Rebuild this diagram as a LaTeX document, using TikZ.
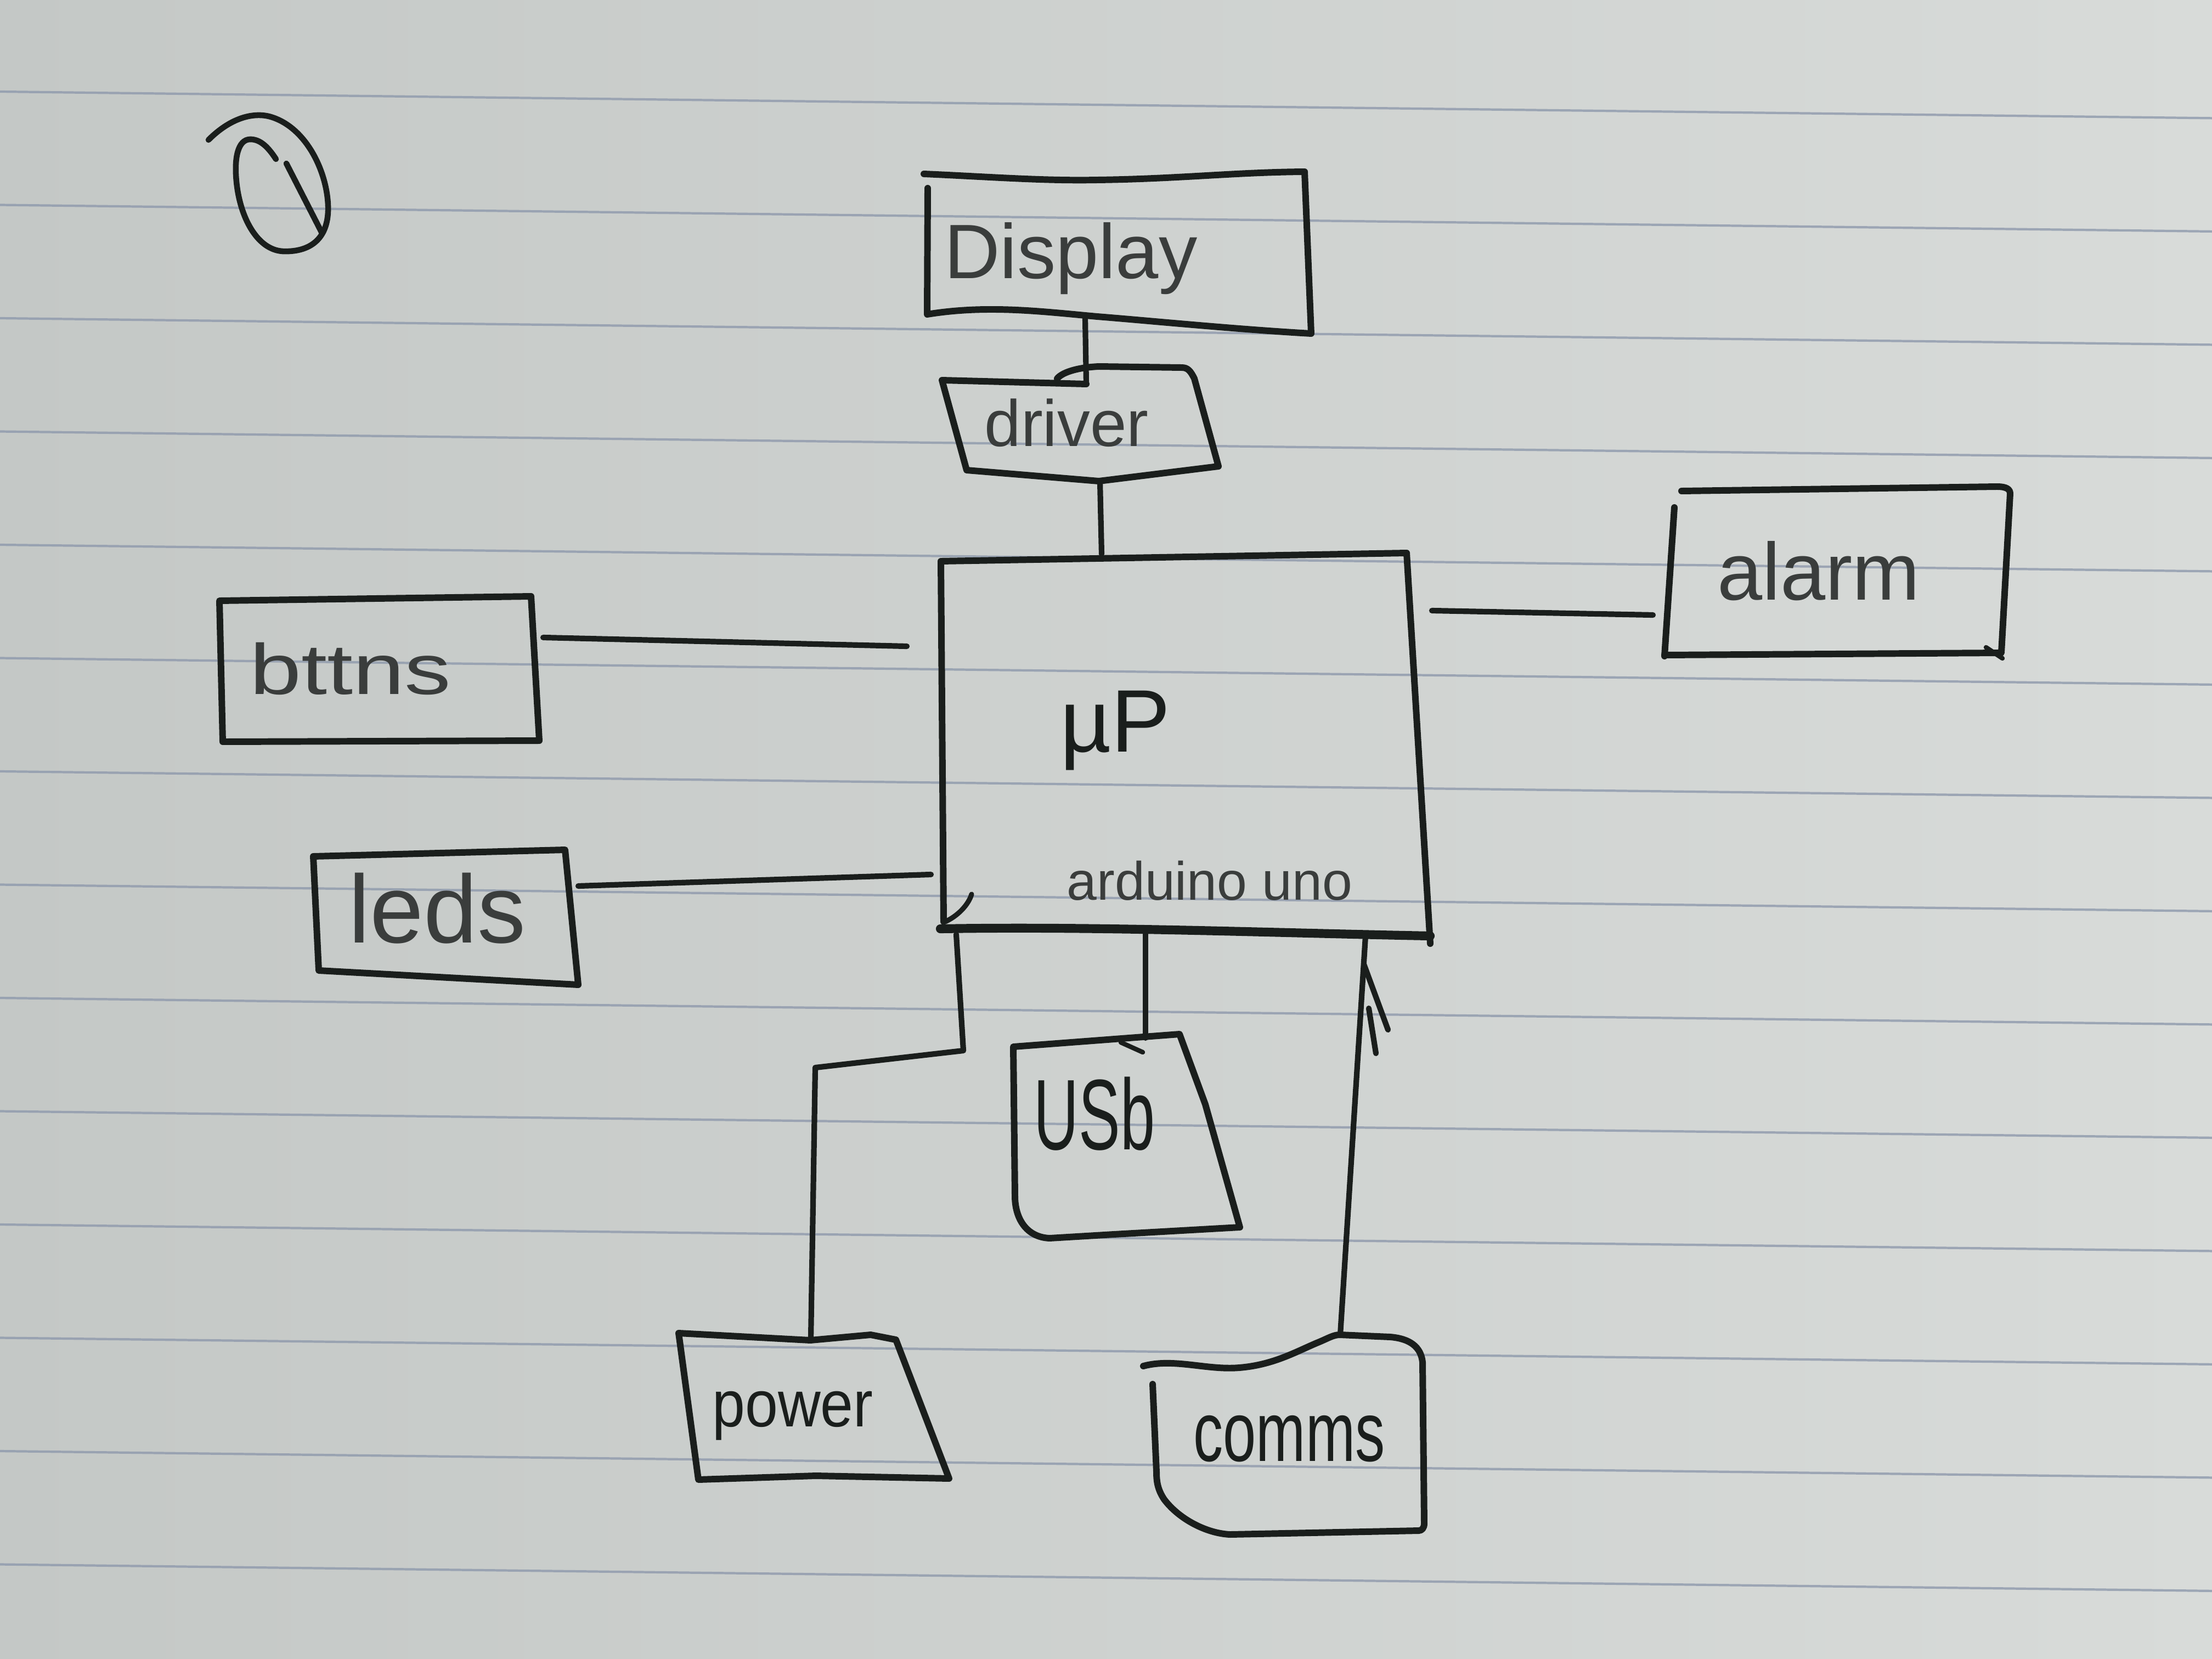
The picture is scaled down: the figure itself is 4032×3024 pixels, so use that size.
\documentclass[tikz,border=0pt]{standalone}
\usepackage{fontspec}
\setmainfont{Liberation Sans}
\usetikzlibrary{calc}
\definecolor{ink}{RGB}{26,30,28}
\definecolor{pencil}{RGB}{58,61,60}
\definecolor{paperL}{RGB}{196,200,198}
\definecolor{paperR}{RGB}{216,219,217}
\definecolor{rulec}{RGB}{142,153,172}
\begin{document}
\begin{tikzpicture}[x=0.01cm,y=-0.01cm,
  box/.style={draw=ink, line width=3.4pt, line join=round, line cap=round},
  wire/.style={draw=ink, line width=2.9pt, line cap=round, line join=round},
  rl/.style={draw=rulec, line width=1.2pt, opacity=0.8},
  lbl/.style={inner sep=0pt, anchor=base, text=#1},
  lbl/.default=ink]
\useasboundingbox (0,0) rectangle (4032,3024);
\shade[left color=paperL, right color=paperR] (0,0) rectangle (4032,3024);
% ruled lines
\foreach \k in {0,...,13} {
  \draw[rl] (0,{167+206.5*\k}) -- (4032,{215.4+206.5*\k});
}
% circled 1
\draw[box, line width=3pt] (380,255) .. controls (420,215) and (460,205) .. (490,212)
  .. controls (560,230) and (600,320) .. (598,385)
  .. controls (596,440) and (560,460) .. (515,458)
  .. controls (470,455) and (440,400) .. (432,340)
  .. controls (425,285) and (435,255) .. (455,254)
  .. controls (475,253) and (490,270) .. (503,290);
\draw[box, line width=3pt] (522,298) -- (587,425);

% ---------- Display
\draw[box] (1684,317) .. controls (1800,322) and (1900,330) .. (2000,328)
  .. controls (2150,326) and (2250,314) .. (2378,313) -- (2390,608)
  .. controls (2250,600) and (2100,585) .. (2000,577)
  .. controls (1900,568) and (1800,555) .. (1690,573) -- (1691,343);
\node[lbl=pencil, font=\fontsize{40pt}{40pt}\selectfont] (dispT) at (1952,507) {Display};
\coordinate (dispB) at (1978,580);

% ---------- driver
\draw[box] (1980,700) -- (1717,693) -- (1762,857) -- (2003,877) -- (2221,850) -- (2177,690)
  .. controls (2170,676) and (2165,670) .. (2154,670) -- (2003,668)
  .. controls (1960,670) and (1935,680) .. (1927,690);
\node[lbl=pencil, font=\fontsize{34pt}{34pt}\selectfont] (drvT) at (1944,813) {driver};
\coordinate (drvTop) at (1980,700);
\coordinate (drvB) at (2005,877);

% ---------- uP
\draw[box] (1720,1680) -- (1715,1023) -- (2564,1008) -- (2607,1720);
\draw[box, line width=4.6pt] (1714,1693) .. controls (2000,1688) and (2300,1700) .. (2607,1706);
\draw[box, line width=2.6pt] (1723,1680) .. controls (1745,1670) and (1765,1650) .. (1771,1630);
\node[lbl, font=\fontsize{46pt}{46pt}\selectfont] (uPT) at (2033,1370) {µP};
\node[lbl=pencil, font=\fontsize{28pt}{28pt}\selectfont] (ardT) at (2205,1640) {arduino uno};
\coordinate (uPtop) at (2008,1010);
\coordinate (uPright) at (2610,1113);
\coordinate (uPleftA) at (1653,1178);
\coordinate (uPleftB) at (1697,1594);
\coordinate (uPbotA) at (1743,1703);
\coordinate (uPbotB) at (2088,1700);
\coordinate (uPbotC) at (2489,1706);

% ---------- alarm
\draw[box] (3065,895) -- (3640,887) .. controls (3658,887) and (3664,892) .. (3664,900) -- (3648,1190) -- (3034,1194);
\draw[box] (3052,925) -- (3034,1196);
\draw[box, line width=2.4pt] (3620,1180) -- (3650,1200);
\node[lbl=pencil, font=\fontsize{42pt}{42pt}\selectfont] (alarmT) at (3315,1093) {alarm};
\coordinate (alarmL) at (3013,1121);

% ---------- bttns
\draw[box] (400,1095) -- (968,1087) -- (983,1350) -- (406,1352) -- cycle;
\node[lbl=pencil, font=\fontsize{37pt}{37pt}\selectfont] (btnT) at (639,1265) {\scalebox{1.3}[1]{bttns}};
\coordinate (btnR) at (990,1162);

% ---------- leds
\draw[box] (571,1561) -- (1030,1549) -- (1054,1795) -- (581,1769) -- cycle;
\node[lbl=pencil, font=\fontsize{50pt}{50pt}\selectfont] (ledT) at (797,1718) {leds};
\coordinate (ledR) at (1054,1615);

% ---------- USb
\draw[box] (1847,1908) -- (2150,1885) -- (2197,2013) -- (2260,2237) -- (2030,2250) -- (1913,2257)
  .. controls (1870,2255) and (1850,2220) .. (1850,2180) -- cycle;
\draw[box, line width=2.4pt] (2043,1900) -- (2083,1918);
\node[lbl, font=\fontsize{52pt}{52pt}\selectfont] (usbT) at (1995,2095) {\scalebox{0.62}[1]{USb}};
\coordinate (usbTop) at (2088,1892);

% ---------- power
\draw[box] (1237,2430) -- (1477,2443) -- (1587,2433) -- (1633,2442) -- (1730,2695) -- (1487,2690) -- (1273,2697) -- cycle;
\node[lbl, font=\fontsize{34pt}{34pt}\selectfont] (powT) at (1445,2600) {\scalebox{0.9}[1]{power}};
\coordinate (powTop) at (1478,2440);

% ---------- comms
\draw[box] (2084,2490) .. controls (2140,2475) and (2200,2498) .. (2259,2493)
  .. controls (2320,2488) and (2360,2465) .. (2400,2448)
  .. controls (2420,2440) and (2430,2433) .. (2442,2433) -- (2534,2437)
  .. controls (2570,2440) and (2590,2455) .. (2593,2483) -- (2596,2777)
  .. controls (2596,2785) and (2592,2790) .. (2586,2790) -- (2242,2797)
  .. controls (2200,2795) and (2150,2770) .. (2122,2733)
  .. controls (2110,2715) and (2108,2700) .. (2108,2683) -- (2101,2523);
\node[lbl, font=\fontsize{44pt}{44pt}\selectfont] (comT) at (2350,2663) {\scalebox{0.7}[1]{comms}};
\coordinate (comTop) at (2443,2433);

% ---------- connectors
\draw[wire] (dispB) -- (drvTop);
\draw[wire] (drvB) -- (uPtop);
\draw[wire] (uPright) -- (alarmL);
\draw[wire] (btnR) -- (uPleftA);
\draw[wire] (ledR) -- (uPleftB);
\draw[wire] (uPbotB) -- (usbTop);
\draw[wire] (uPbotA) -- (1756,1915) -- (1486,1946) -- (powTop);
\draw[wire] (comTop) -- (uPbotC);
\coordinate (tip) at ($(comTop)!0.93!(uPbotC)$);
\draw[wire] (tip) -- (2530,1877);
\draw[wire] (2495,1838) -- (2508,1920);
\end{tikzpicture}
\end{document}
